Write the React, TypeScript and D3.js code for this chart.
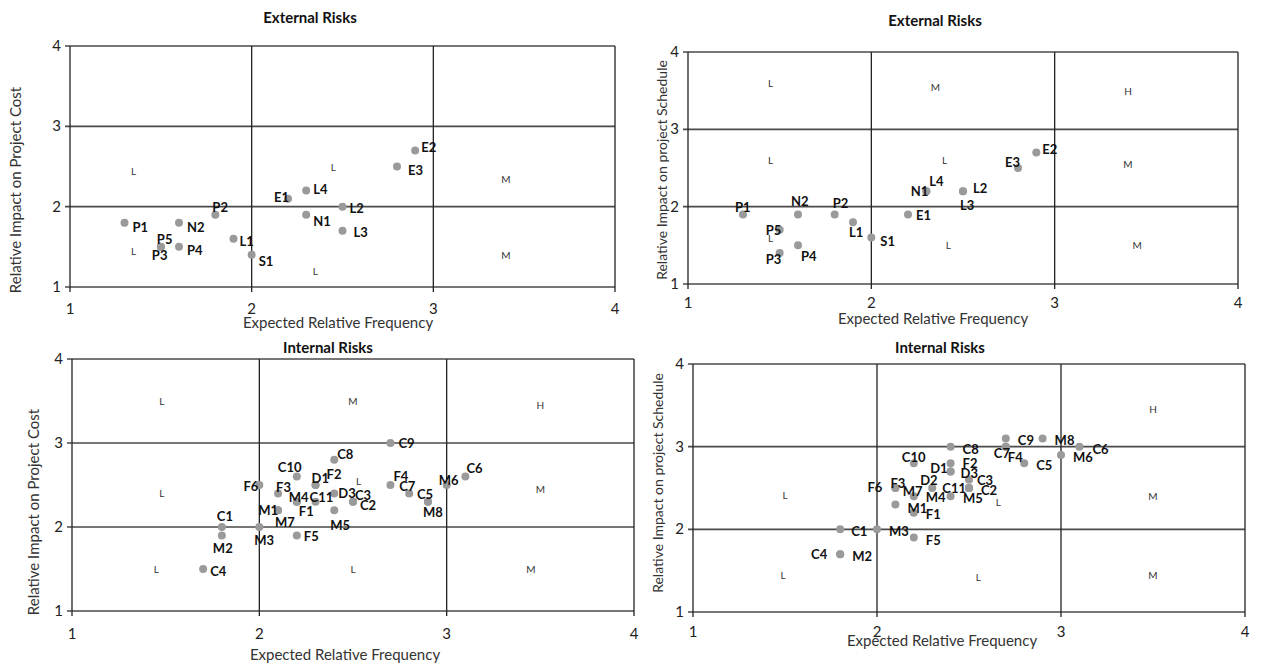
import React from 'react';
import * as d3 from 'd3';

const freqTicks = [1, 2, 3, 4];
const impactTicks = [1, 2, 3, 4];

// [risk, expected relative frequency, relative impact]
const externalCost: [string, number, number][] = [
  ['P1', 1.3, 1.8], ['N2', 1.6, 1.8], ['P2', 1.8, 1.9], ['P5', 1.5, 1.5],
  ['P3', 1.5, 1.5], ['P4', 1.6, 1.5], ['L1', 1.9, 1.6], ['S1', 2.0, 1.4],
  ['E1', 2.2, 2.1], ['L4', 2.3, 2.2], ['N1', 2.3, 1.9], ['L2', 2.5, 2.0],
  ['L3', 2.5, 1.7], ['E3', 2.8, 2.5], ['E2', 2.9, 2.7],
];

const externalSchedule: [string, number, number][] = [
  ['P1', 1.3, 1.9], ['N2', 1.6, 1.9], ['P2', 1.8, 1.9], ['L1', 1.9, 1.8],
  ['S1', 2.0, 1.6], ['P5', 1.5, 1.7], ['P3', 1.5, 1.4], ['P4', 1.6, 1.5],
  ['E1', 2.2, 1.9], ['N1', 2.3, 2.2], ['L4', 2.3, 2.2], ['L2', 2.5, 2.2],
  ['L3', 2.5, 2.2], ['E3', 2.8, 2.5], ['E2', 2.9, 2.7],
];

const internalCost: [string, number, number][] = [
  ['C4', 1.7, 1.5], ['C1', 1.8, 2.0], ['M2', 1.8, 1.9], ['M3', 2.0, 2.0],
  ['F6', 2.0, 2.5], ['F3', 2.1, 2.4], ['M1', 2.1, 2.2], ['M7', 2.1, 2.2],
  ['C10', 2.2, 2.6], ['M4', 2.2, 2.3], ['F1', 2.2, 2.3], ['F5', 2.2, 1.9],
  ['D1', 2.3, 2.5], ['F2', 2.3, 2.5], ['C11', 2.3, 2.3], ['C8', 2.4, 2.8],
  ['D3', 2.4, 2.4], ['M5', 2.4, 2.2], ['C3', 2.5, 2.3], ['C2', 2.5, 2.3],
  ['C9', 2.7, 3.0], ['F4', 2.7, 2.5], ['C7', 2.8, 2.4], ['C5', 2.9, 2.3],
  ['M8', 2.9, 2.3], ['M6', 3.0, 2.5], ['C6', 3.1, 2.6],
];

const internalSchedule: [string, number, number][] = [
  ['C1', 1.8, 2.0], ['C4', 1.8, 1.7], ['M2', 1.8, 1.7], ['M3', 2.0, 2.0],
  ['F5', 2.2, 1.9], ['C10', 2.2, 2.8], ['F6', 2.1, 2.5], ['F3', 2.1, 2.5],
  ['M1', 2.1, 2.3], ['M7', 2.2, 2.4], ['F1', 2.2, 2.2], ['D2', 2.3, 2.5],
  ['C8', 2.4, 3.0], ['F2', 2.4, 2.8], ['D1', 2.4, 2.7], ['D3', 2.4, 2.7],
  ['M4', 2.4, 2.4], ['C3', 2.5, 2.6], ['C11', 2.5, 2.5], ['C2', 2.5, 2.5],
  ['M5', 2.5, 2.5], ['C9', 2.7, 3.1], ['C7', 2.7, 3.0], ['F4', 2.7, 3.0],
  ['C5', 2.8, 2.8], ['M8', 2.9, 3.1], ['M6', 3.0, 2.9], ['C6', 3.1, 3.0],
];

// risk zone letters: [letter, freq, impact]
const externalCostZones: [string, number, number][] = [
  ['L', 1.35, 2.45], ['L', 2.45, 2.5], ['M', 3.4, 2.35],
  ['L', 1.35, 1.45], ['L', 2.35, 1.2], ['M', 3.4, 1.4],
];
const externalScheduleZones: [string, number, number][] = [
  ['L', 1.45, 3.6], ['M', 2.35, 3.55], ['H', 3.4, 3.5],
  ['L', 1.45, 2.6], ['L', 2.4, 2.6], ['M', 3.4, 2.55],
  ['L', 1.45, 1.6], ['L', 2.42, 1.5], ['M', 3.45, 1.5],
];
const internalCostZones: [string, number, number][] = [
  ['L', 1.48, 3.5], ['M', 2.5, 3.5], ['H', 3.5, 3.45],
  ['L', 1.48, 2.4], ['L', 2.53, 2.55], ['M', 3.5, 2.45],
  ['L', 1.45, 1.5], ['L', 2.5, 1.5], ['M', 3.45, 1.5],
];
const internalScheduleZones: [string, number, number][] = [
  ['H', 3.5, 3.45],
  ['L', 1.5, 2.42], ['L', 2.66, 2.33], ['M', 3.5, 2.4],
  ['L', 1.49, 1.45], ['L', 2.55, 1.42], ['M', 3.5, 1.45],
];

// label offsets in px from the dot: [dx, baseline dy, anchor]
type Off = [number, number, string?];
const externalCostOff: Record<string, Off> = {
  P1: [8, 9], N2: [8, 9], P2: [-3, -3], P5: [-4, -3], P3: [-9, 13], P4: [8, 8],
  L1: [6, 7], S1: [7, 11], E1: [-14, 3], L4: [7, 3], N1: [7, 11], L2: [7, 6],
  L3: [11, 6], E3: [11, 8], E2: [6, 2],
};
const externalScheduleOff: Record<string, Off> = {
  P1: [-8, -2], N2: [-7, -8], P2: [-2, -6], L1: [-4, 15], S1: [9, 8], P5: [-14, 5],
  P3: [-14, 11], P4: [3, 16], E1: [8, 6], N1: [2, 5, 'end'], L4: [3, -5], L2: [10, 2],
  L3: [-3, 19], E3: [-13, -1], E2: [6, 1],
};
const internalCostOff: Record<string, Off> = {
  C4: [7, 7], C1: [-5, -6], M2: [-9, 18], M3: [-5, 18], F6: [-1, 6, 'end'], F3: [-2, -1],
  M1: [0, 5, 'end'], M7: [-3, 17], C10: [-19, -5], M4: [-8, 0], F1: [2, 14], F5: [7, 6],
  D1: [-4, -2], F2: [11, -6], C11: [-6, 0], C8: [3, -1], D3: [4, 5], M5: [-4, 20],
  C3: [2, -2], C2: [7, 8], C9: [8, 5], F4: [3, -4], C7: [-10, -2], C5: [-11, -3],
  M8: [-5, 15], M6: [-8, 0], C6: [1, -4],
};
const internalScheduleOff: Record<string, Off> = {
  C1: [11, 7], C4: [-13, 5, 'end'], M2: [12, 7], M3: [12, 7], F5: [12, 7], C10: [-12, -1],
  F6: [-13, 4, 'end'], F3: [-5, 0], M1: [12, 8], M7: [-11, 0], F1: [12, 6], D2: [-12, -3],
  C8: [12, 7], F2: [12, 5], D1: [-3, 2, 'end'], D3: [10, 7], M4: [-5, 6, 'end'], C3: [8, 5],
  C11: [-3, 5, 'end'], C2: [12, 7], M5: [-6, 15], C9: [12, 7], C7: [-12, 11], F4: [2, 15],
  C5: [12, 7], M8: [12, 7], M6: [12, 7], C6: [13, 7],
};

const font = 'Lato, "Open Sans", sans-serif';

type PanelProps = {
  box: { left: number; right: number; top: number; bottom: number };
  title: string; titleX: number; titleY: number;
  yTitle: string; yTitleX: number; yTitleY: number; yTitleSize: number;
  xTitleX: number; xTitleY: number; xTickY: number;
  points: [string, number, number][];
  zones: [string, number, number][];
  offsets: Record<string, Off>;
};

const Panel = ({ box, title, titleX, titleY, yTitle, yTitleX, yTitleY, yTitleSize, xTitleX, xTitleY, xTickY, points, zones, offsets }: PanelProps) => {
  const x = d3.scaleLinear().domain([1, 4]).range([box.left, box.right]);
  const y = d3.scaleLinear().domain([1, 4]).range([box.bottom, box.top]);
  return (
    <g>
      <text x={titleX} y={titleY} textAnchor="middle" fontSize={15} fontWeight="bold" fill="#111">{title}</text>
      {impactTicks.map(t => (
        <g key={'h' + t}>
          <line x1={x(1) - 5} x2={x(4)} y1={y(t)} y2={y(t)} stroke="#4a4a4a" strokeWidth={1.6} />
          <text x={x(1) - 9} y={y(t) + 5} textAnchor="end" fontSize={15} fill="#222">{t}</text>
        </g>
      ))}
      {freqTicks.map(t => (
        <g key={'v' + t}>
          <line x1={x(t)} x2={x(t)} y1={y(4)} y2={y(1) + 5} stroke="#222" strokeWidth={1.3} />
          <text x={x(t)} y={xTickY} textAnchor="middle" fontSize={15} fill="#222">{t}</text>
        </g>
      ))}
      <text x={xTitleX} y={xTitleY} textAnchor="middle" fontSize={15} fill="#333">Expected Relative Frequency</text>
      <text transform={`translate(${yTitleX},${yTitleY}) rotate(-90)`} textAnchor="middle" fontSize={yTitleSize} fill="#333">{yTitle}</text>
      {zones.map(([z, fx, iy], i) => (
        <text key={'z' + i} x={x(fx)} y={y(iy) + 4} textAnchor="middle" fontSize={10} fill="#333">{z}</text>
      ))}
      {points.map(([id, fx, iy]) => (
        <circle key={'c' + id} cx={x(fx)} cy={y(iy)} r={4} fill="#9a9a9a" />
      ))}
      {points.map(([id, fx, iy]) => {
        const o = offsets[id] || [7, 5];
        return (
          <text key={'t' + id} x={x(fx) + o[0]} y={y(iy) + o[1]} textAnchor={o[2] || 'start'}
            fontSize={13} fontWeight="bold" fill="#111">{id}</text>
        );
      })}
    </g>
  );
};

export default function App() {
  return (
    <svg width={1261} height={665} style={{ position: 'absolute', left: 0, top: 0, background: '#fff' }}
      fontFamily={font}>
      <Panel box={{ left: 70, right: 615, top: 46, bottom: 287 }}
        title="External Risks" titleX={310} titleY={23}
        yTitle="Relative Impact on Project Cost" yTitleX={21} yTitleY={190} yTitleSize={15}
        xTitleX={338} xTitleY={328} xTickY={314} points={externalCost}
        zones={externalCostZones} offsets={externalCostOff} />
      <Panel box={{ left: 688, right: 1238, top: 52, bottom: 284 }}
        title="External Risks" titleX={935} titleY={26}
        yTitle="Relative Impact on project Schedule" yTitleX={667} yTitleY={170} yTitleSize={14}
        xTitleX={933} xTitleY={324} xTickY={308} points={externalSchedule}
        zones={externalScheduleZones} offsets={externalScheduleOff} />
      <Panel box={{ left: 72, right: 634, top: 359, bottom: 611 }}
        title="Internal Risks" titleX={328} titleY={353}
        yTitle="Relative Impact on Project Cost" yTitleX={39} yTitleY={512} yTitleSize={15}
        xTitleX={345} xTitleY={660} xTickY={639} points={internalCost}
        zones={internalCostZones} offsets={internalCostOff} />
      <Panel box={{ left: 693, right: 1245, top: 364, bottom: 612 }}
        title="Internal Risks" titleX={940} titleY={353}
        yTitle="Relative Impact on project Schedule" yTitleX={663} yTitleY={483} yTitleSize={14}
        xTitleX={942} xTitleY={646} xTickY={637} points={internalSchedule}
        zones={internalScheduleZones} offsets={internalScheduleOff} />
    </svg>
  );
}
